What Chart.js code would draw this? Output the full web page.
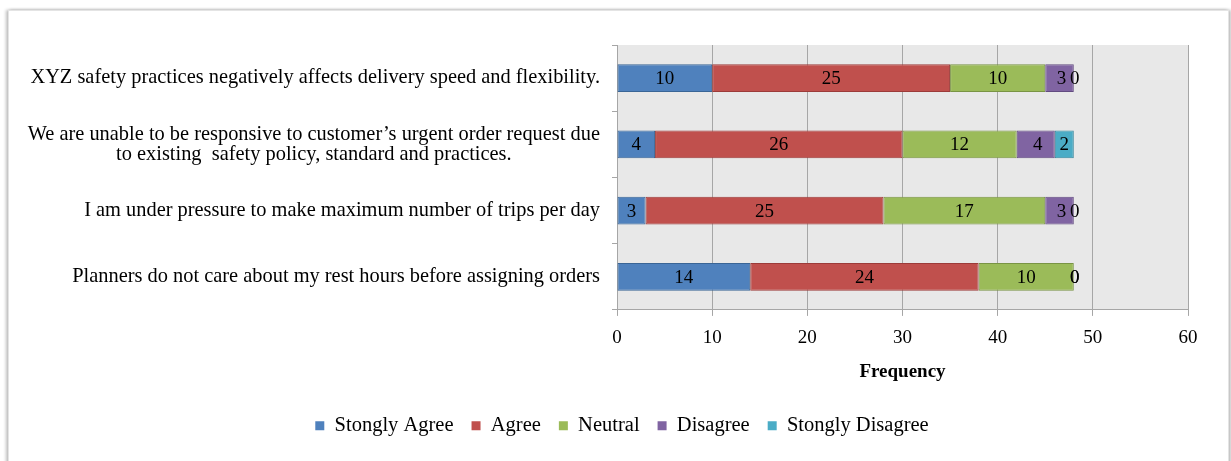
<!DOCTYPE html>
<html>
<head>
<meta charset="utf-8">
<script src="https://cdn.jsdelivr.net/npm/chart.js@4.4.1/dist/chart.umd.min.js"></script>
<style>
  html, body { margin: 0; padding: 0; background: #fff; }
  #card {
    position: absolute; left: 8px; top: 10px; width: 1219px; height: 470px;
    background: #fff; border: 1px solid #e4e4e4;
    box-shadow: -2px 0 3px rgba(0,0,0,0.25), 2px 0 3px rgba(0,0,0,0.25);
  }
  #wrap { position: absolute; left: 0; top: 0; width: 1231px; height: 461px; }
</style>
</head>
<body>
<div id="card"></div>
<div id="wrap"><canvas id="chart" width="1231" height="461"></canvas></div>
<script>
const categories = [
    ["XYZ safety practices negatively affects delivery speed and flexibility."],
    ["We are unable to be responsive to customer\u2019s urgent order request due", "to existing  safety policy, standard and practices."],
    ["I am under pressure to make maximum number of trips per day"],
    ["Planners do not care about my rest hours before assigning orders"]
];
const seriesNames = ["Stongly Agree", "Agree", "Neutral", "Disagree", "Stongly Disagree"];
const stronglyAgree = [10, 4, 3, 14];
const agree = [25, 26, 25, 24];
const neutral = [10, 12, 17, 10];
const disagree = [3, 4, 3, 0];
const stronglyDisagree = [0, 2, 0, 0];
const xTicks = [0, 10, 20, 30, 40, 50, 60];

const fills = ["#4f81bd", "#c0504d", "#9bbb59", "#8064a2", "#4bacc6"];
const edges = ["#3a6596", "#9c3b39", "#799444", "#624b80", "#35879c"];
const serif = "'Liberation Serif', 'Times New Roman', serif";

// grey plot area, painted before the grid so the grid lines stay visible
const plotBg = {
    id: "plotBg",
    beforeDraw(chart) {
        const a = chart.chartArea, ctx = chart.ctx;
        ctx.save();
        ctx.fillStyle = "#e8e8e8";
        ctx.fillRect(a.left, a.top, a.right - a.left, a.bottom - a.top);
        ctx.restore();
    }
};

const valueLabels = {
    id: "valueLabels",
    afterDatasetsDraw(chart) {
        const ctx = chart.ctx;
        ctx.save();
        ctx.font = "19px " + serif;
        ctx.fillStyle = "#000";
        ctx.textAlign = "center";
        ctx.textBaseline = "middle";
        chart.data.datasets.forEach((ds, i) => {
            chart.getDatasetMeta(i).data.forEach((bar, j) => {
                const v = ds.data[j];
                const x = v === 0 ? bar.x + 1 : (bar.x + bar.base) / 2 + (i === 3 ? 2 : 0);
                ctx.fillText(String(v), x, bar.y + 1);
            });
        });
        ctx.restore();
    }
};

// category labels: right-aligned block, lines centred inside the block
const yLabels = {
    id: "yLabels",
    afterDraw(chart) {
        const ctx = chart.ctx, y = chart.scales.y;
        ctx.save();
        ctx.font = "20.4px " + serif;
        ctx.fillStyle = "#000";
        ctx.textAlign = "center";
        ctx.textBaseline = "middle";
        const lh = 20;
        categories.forEach((lines, i) => {
            const yc = y.getPixelForTick(i);
            const w = Math.max(...lines.map(l => ctx.measureText(l).width));
            const cx = 600 - w / 2;
            const y0 = yc - (lines.length - 1) * lh / 2;
            lines.forEach((l, k) => ctx.fillText(l, cx, y0 + k * lh));
        });
        ctx.restore();
    }
};

const series = [stronglyAgree, agree, neutral, disagree, stronglyDisagree];

new Chart(document.getElementById("chart"), {
    type: "bar",
    data: {
        labels: categories,
        datasets: series.map((d, i) => ({
            label: seriesNames[i],
            data: d,
            backgroundColor: fills[i],
            borderColor: edges[i],
            borderWidth: 1,
            borderSkipped: false,
            categoryPercentage: 1,
            barPercentage: 0.42
        }))
    },
    options: {
        indexAxis: "y",
        responsive: false,
        animation: false,
        layout: { padding: { top: 45, right: 43, left: 56, bottom: 15 } },
        scales: {
            x: {
                stacked: true,
                min: 0,
                max: 60,
                afterBuildTicks(scale) { scale.ticks = xTicks.map(v => ({ value: v })); },
                grid: { color: "#a6a6a6", tickLength: 6, tickColor: "#a6a6a6" },
                border: { color: "#a6a6a6" },
                ticks: { color: "#000", font: { family: serif, size: 19 }, padding: 11 },
                title: {
                    display: true,
                    text: "Frequency",
                    color: "#000",
                    font: { family: serif, size: 19, weight: "bold" },
                    padding: { top: 0, bottom: 14 }
                }
            },
            y: {
                stacked: true,
                afterFit(scale) { scale.width = 561; },
                grid: { drawOnChartArea: false, tickLength: 5, tickColor: "#a6a6a6", offset: true },
                border: { color: "#a6a6a6" },
                ticks: { display: false }
            }
        },
        plugins: {
            legend: {
                position: "bottom",
                labels: {
                    color: "#000",
                    font: { family: serif, size: 20.5 },
                    boxWidth: 9,
                    boxHeight: 9,
                    padding: 18,
                    generateLabels(chart) {
                        return chart.data.datasets.map((ds, i) => ({
                            text: ds.label,
                            fillStyle: fills[i],
                            strokeStyle: fills[i],
                            lineWidth: 0,
                            datasetIndex: i
                        }));
                    }
                }
            },
            tooltip: { enabled: false }
        }
    },
    plugins: [plotBg, valueLabels, yLabels]
});
</script>
</body>
</html>
